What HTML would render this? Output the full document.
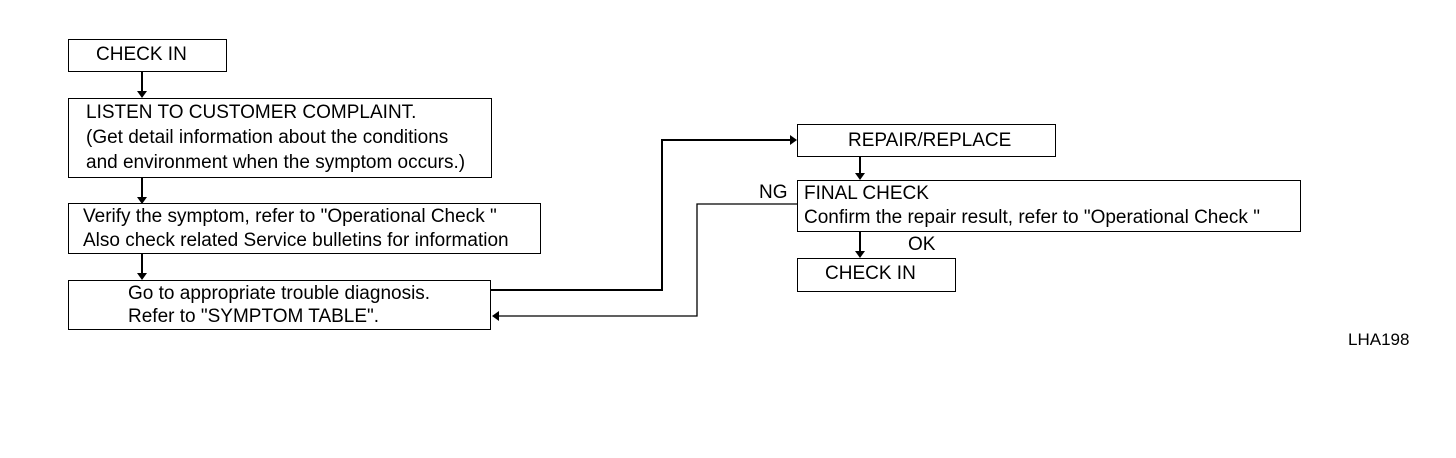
<!DOCTYPE html>
<html><head><style>
body{margin:0;width:1456px;height:458px;background:#fff;position:relative;overflow:hidden;font-family:"Liberation Sans",Arial,sans-serif;color:#000}
.b{position:absolute;border:1.5px solid #000;box-sizing:border-box;font-size:19px;line-height:24px;white-space:nowrap}
.t{position:absolute;font-size:19px;white-space:nowrap}
</style></head><body>
<svg width="1456" height="458" style="position:absolute;left:0;top:0">
<g stroke="#000" stroke-width="2" fill="none">
<line x1="142" y1="72" x2="142" y2="92"/>
<line x1="142" y1="178" x2="142" y2="198"/>
<line x1="142" y1="254" x2="142" y2="274"/>
<polyline points="491,290 662,290 662,140 791,140"/>
<polyline points="797,204 697,204 697,316 498,316" stroke-width="1.3"/>
<line x1="860" y1="157" x2="860" y2="174"/>
<line x1="860" y1="232" x2="860" y2="252"/>
</g>
<g fill="#000">
<polygon points="137,91 147,91 142,98"/>
<polygon points="137,197 147,197 142,204"/>
<polygon points="137,273 147,273 142,280"/>
<polygon points="790,135 790,145 797,140"/>
<polygon points="499,311 499,321 492,316"/>
<polygon points="855,173 865,173 860,180"/>
<polygon points="855,251 865,251 860,258"/>
</g>
</svg>
<div class="b" style="left:68px;top:39px;width:159px;height:33px;padding:3px 0 0 27px">CHECK IN</div>
<div class="b" style="left:68px;top:98px;width:424px;height:80px;padding:1px 0 0 17px;line-height:25px">LISTEN TO CUSTOMER COMPLAINT.<br>(Get detail information about the conditions<br>and environment when the symptom occurs.)</div>
<div class="b" style="left:68px;top:203px;width:473px;height:51px;padding:1px 0 0 14px">Verify the symptom, refer to "Operational Check "<br>Also check related Service bulletins for information</div>
<div class="b" style="left:68px;top:280px;width:423px;height:50px;padding:1px 0 0 59px;line-height:23px">Go to appropriate trouble diagnosis.<br>Refer to "SYMPTOM TABLE".</div>
<div class="b" style="left:797px;top:124px;width:259px;height:33px;padding:4px 0 0 50px">REPAIR/REPLACE</div>
<div class="b" style="left:797px;top:180px;width:504px;height:52px;padding:1px 0 0 6px">FINAL CHECK<br>Confirm the repair result, refer to "Operational Check "</div>
<div class="b" style="left:797px;top:258px;width:159px;height:34px;padding:3px 0 0 27px">CHECK IN</div>
<div class="t" style="left:759px;top:182px">NG</div>
<div class="t" style="left:908px;top:234px">OK</div>
<div class="t" style="left:1348px;top:330px;font-size:17px">LHA198</div>
</body></html>
